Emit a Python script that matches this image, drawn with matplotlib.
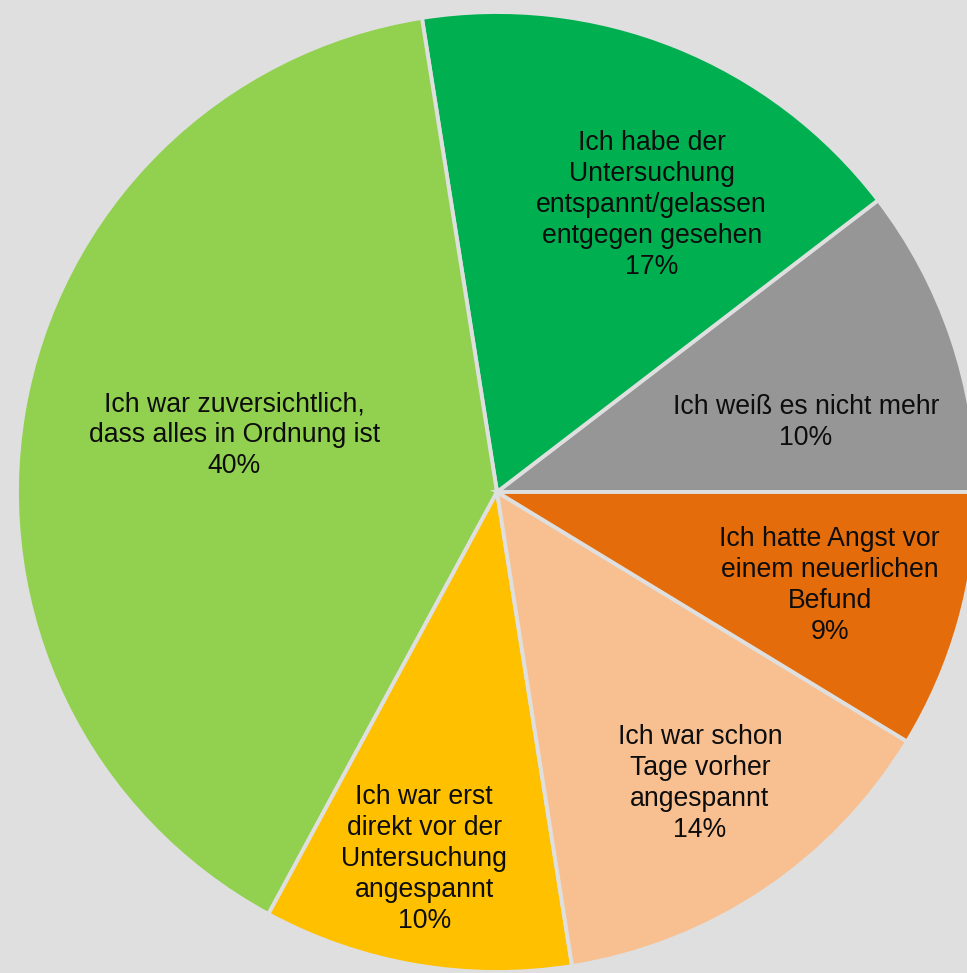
import matplotlib.pyplot as plt
import numpy as np

plt.rcParams['font.family'] = ['Liberation Sans', 'DejaVu Sans']

# Antworten, gegen den Uhrzeigersinn ab 0 Grad
antworten = [
    "Ich weiß es nicht mehr",
    "Ich habe der\nUntersuchung\nentspannt/gelassen\nentgegen gesehen",
    "Ich war zuversichtlich,\ndass alles in Ordnung ist",
    "Ich war erst\ndirekt vor der\nUntersuchung\nangespannt",
    "Ich war schon\nTage vorher\nangespannt",
    "Ich hatte Angst vor\neinem neuerlichen\nBefund",
]
anteile = [10.4, 17.1, 39.6, 10.4, 13.8, 8.7]
farben = ["#969696", "#00b050", "#92d050", "#ffc000", "#f8c090", "#e46c0a"]

hintergrund = "#dfdfdf"

# Lage der Beschriftungen (Winkelversatz in Grad, Abstand relativ zum Radius)
winkel_versatz = [-6, -6.5, -2.5, -1.5, 1, 0]
abstand = [0.66, 0.68, 0.56, 0.78, 0.74, 0.72]
explode = [0, 0, 0.014, 0, 0, 0]

fig = plt.figure(figsize=(9.67, 9.73), dpi=100, facecolor=hintergrund)
ax = fig.add_axes([0, 0, 1, 1])
ax.set_facecolor(hintergrund)

mitte = (497, 481)
radius = 480

wedges, _ = ax.pie(anteile, colors=farben, startangle=0, counterclock=True,
                   center=mitte, radius=radius, explode=explode,
                   wedgeprops=dict(edgecolor=hintergrund, linewidth=2.8))

for w, txt, p, dw, d in zip(wedges, antworten, anteile, winkel_versatz, abstand):
    theta = np.deg2rad((w.theta1 + w.theta2) / 2 + dw)
    x = mitte[0] + d * radius * np.cos(theta)
    y = mitte[1] + d * radius * np.sin(theta)
    ax.text(x, y, f"{txt}\n{round(p)}%", ha="center", va="center",
            fontsize=19.2, color="#0d0d0d", linespacing=1.25)

ax.set_xlim(0, 967)
ax.set_ylim(0, 973)
ax.set_aspect("equal")
ax.axis("off")

fig.savefig("out.png", dpi=100, facecolor=hintergrund)
